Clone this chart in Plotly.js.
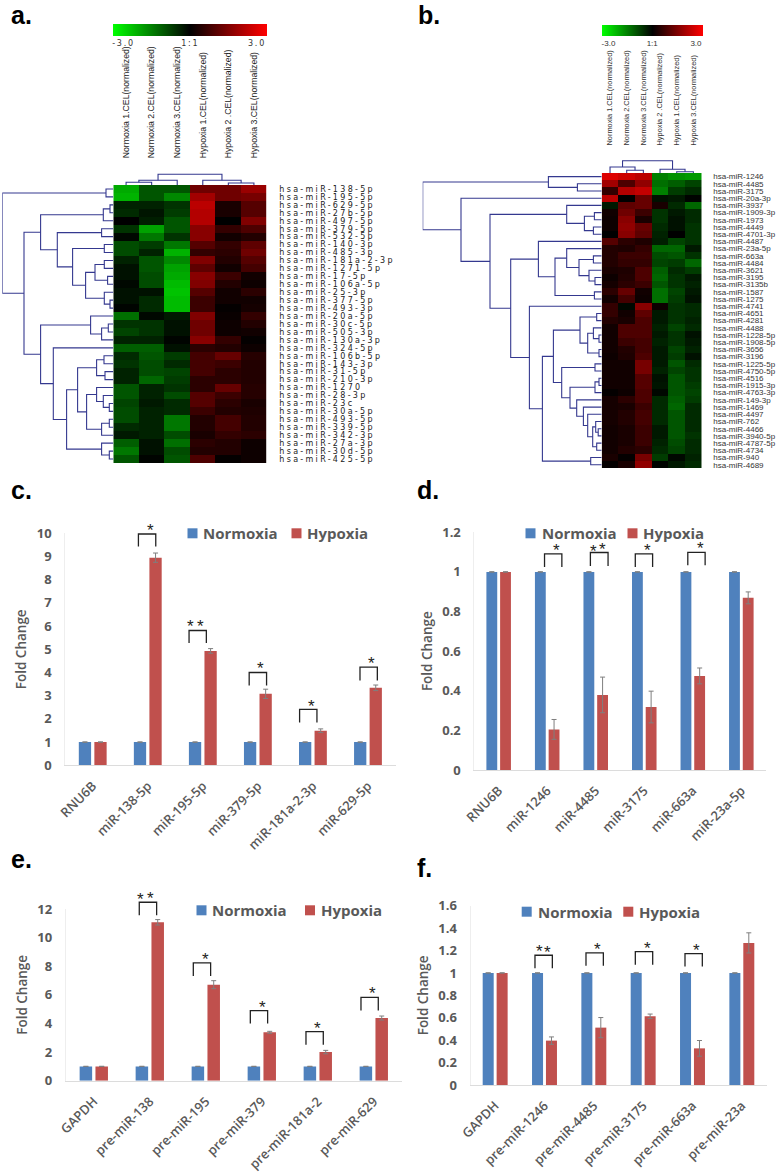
<!DOCTYPE html>
<html>
<head>
<meta charset="utf-8">
<script src="https://cdn.plot.ly/plotly-3.0.1.min.js"></script>
<style>
html,body{margin:0;padding:0;background:#fff}
#chart{width:778px;height:1174px}
.subplot.xy .yaxislayer-above text{letter-spacing:2.3px}
.cbheatA text{letter-spacing:1.8px}
</style>
</head>
<body>
<div id="chart"></div>
<script>
const W = 778, H = 1174;

/* ---------- heat map a ---------- */
const colsA = ["Normoxia 1.CEL(normalized)","Normoxia 2.CEL(normalized)","Normoxia 3.CEL(normalized)","Hypoxia 1.CEL(normalized)","Hypoxia 2 .CEL(normalized)","Hypoxia 3.CEL(normalized)"];
const rowsA = ["hsa-miR-138-5p","hsa-miR-195-5p","hsa-miR-629-5p","hsa-miR-27b-5p","hsa-miR-497-5p","hsa-miR-379-5p","hsa-miR-532-5p","hsa-miR-140-3p","hsa-miR-485-3p","hsa-miR-181a-2-3p","hsa-miR-1271-5p","hsa-miR-17-5p","hsa-miR-106a-5p","hsa-miR-25-3p","hsa-miR-377-5p","hsa-miR-493-3p","hsa-miR-20a-5p","hsa-miR-30c-5p","hsa-miR-505-3p","hsa-miR-130a-3p","hsa-miR-324-5p","hsa-miR-106b-5p","hsa-miR-143-3p","hsa-miR-31-5p","hsa-miR-210-3p","hsa-miR-1270","hsa-miR-28-3p","hsa-miR-23c","hsa-miR-30a-5p","hsa-miR-493-5p","hsa-miR-339-5p","hsa-miR-342-3p","hsa-miR-27a-3p","hsa-miR-30d-5p","hsa-miR-425-5p"];
const heatA = [
[-2.0,-1.0,-1.0,1.3,1.3,1.8],[-2.1,-1.0,-1.6,1.9,1.3,1.4],[-0.4,-0.4,-0.6,2.2,0.3,1.0],[-0.5,-0.25,-0.7,2.1,0.3,1.0],[0,-0.35,-1.0,2.1,0,1.5],
[-0.6,-1.9,-1.0,1.6,0.6,0.9],[-0.1,-1.4,-0.6,1.6,0.2,0.4],[-0.9,-0.7,-1.4,1.0,0.6,1.1],[-0.9,-0.4,-2.1,0.6,0.5,1.3],[-0.4,-1.0,-1.6,1.5,0.4,1.0],
[-0.2,-1.0,-1.9,1.1,0.2,0.8],[-0.2,-0.9,-2.0,1.6,0.7,0.2],[-0.1,-0.9,-2.2,1.5,0.4,0.15],[-0.2,-0.2,-2.3,1.0,0.2,0.5],[-0.2,-0.5,-2.2,0.7,0.2,0.2],
[-0.05,-0.5,-2.2,0.7,0.05,0.25],[-1.3,-0.1,-0.3,1.5,0.1,0.6],[-0.6,-0.6,-0.2,1.3,0.15,0.4],[-0.8,-0.6,-0.2,1.3,0.15,0.2],[-0.4,-0.4,-0.05,1.6,0.6,0.05],
[-1.1,-1.1,-0.2,0.5,0.4,0.15],[-0.5,-1.0,-0.7,0.8,1.2,0.45],[-0.6,-0.9,-0.5,0.8,0.7,0.4],[-0.4,-0.9,-0.8,0.8,0.5,0.4],[-0.4,-1.2,-0.7,0.5,0.5,0.4],
[-1.0,-0.4,-0.6,0.5,1.2,0.45],[-1.0,-0.4,-0.9,1.0,0.7,0.45],[-0.8,-0.3,-0.5,1.0,0.5,0.3],[-0.9,-0.4,-0.5,0.7,0.4,0.35],[-0.9,-0.4,-1.4,0.4,0.8,0.4],
[-0.5,-0.4,-1.4,0.4,0.8,0.4],[-0.3,-0.4,-0.9,0.3,0.6,0.5],[-1.1,-0.2,-1.3,0.5,0.4,0.15],[-1.4,-0.2,-0.9,0.4,0.4,0.15],[-1.0,-0.05,-1.0,0.9,0.05,0.15]];
const rowTreeA = [111,[7.3,0,1],[89.3,
  [72.7,[10,[3.3,2,3],4],[56,[11.7,5,6],[40.7,[9,7,8],[27.7,[18.3,[9,9,10],[5.7,11,12]],[9,13,[3.3,14,15]]]]]],
  [72.7,[22.7,16,[11.7,[5,17,18],19]],[60,20,[46.7,[35.7,[16.7,[9.3,21,22],[8.3,23,24]],[26.7,[16.7,25,[10,26,[4,27,28]]],[11.7,[4,29,30],31]]],[11.7,32,[4,33,34]]]]]]];
const colTreeA = [10.7,[4.7,[2.7,0,1],2],[4.7,3,[2,4,5]]];

/* ---------- heat map b ---------- */
const colsB = ["Normoxia 1.CEL(normalized)","Normoxia 2.CEL(normalized)","Normoxia 3.CEL(normalized)","Hypoxia 2 .CEL(normalized)","Hypoxia 1.CEL(normalized)","Hypoxia 3.CEL(normalized)"];
const rowsB = ["hsa-miR-1246","hsa-miR-4485","hsa-miR-3175","hsa-miR-20a-3p","hsa-miR-3937","hsa-miR-1909-3p","hsa-miR-1973","hsa-miR-4449","hsa-miR-4701-3p","hsa-miR-4487","hsa-miR-23a-5p","hsa-miR-663a","hsa-miR-4484","hsa-miR-3621","hsa-miR-3195","hsa-miR-3135b","hsa-miR-1587","hsa-miR-1275","hsa-miR-4741","hsa-miR-4651","hsa-miR-4281","hsa-miR-4488","hsa-miR-1228-5p","hsa-miR-1908-5p","hsa-miR-3656","hsa-miR-3196","hsa-miR-1225-5p","hsa-miR-4750-5p","hsa-miR-4516","hsa-miR-1915-3p","hsa-miR-4763-3p","hsa-miR-149-3p","hsa-miR-1469","hsa-miR-4497","hsa-miR-762","hsa-miR-4466","hsa-miR-3940-5p","hsa-miR-4787-5p","hsa-miR-4734","hsa-miR-940","hsa-miR-4689"];
const heatB = [
[2.6,2.4,2.2,-1.5,-1.7,-1.8],[1.9,0.9,1.7,-1.3,-1.1,-0.8],[0.6,2.1,2.3,-1.5,-0.7,-0.5],[2.2,0,1.2,-0.2,-0.3,-0.03],[-0.3,1.1,1.2,0.3,-0.5,-1.2],
[0.2,1.3,0.7,-0.6,-0.3,-0.5],[0.15,1.6,0.3,-0.6,-0.2,-0.5],[0.15,1.7,1.2,-0.5,-0.2,-0.6],[0,1.6,1.1,-0.4,0,-0.6],[1.0,0.5,0.35,-0.35,-0.8,-0.6],
[0.4,0.35,0.6,-1.2,-1.2,-0.3],[0.4,0.7,0.7,-0.9,-1.0,-0.6],[0.4,0.6,0.6,-0.8,-0.7,-1.2],[0.3,0.35,0.9,-1.1,-0.5,-0.7],[0.15,0.4,0.9,-1.2,-0.6,-0.3],
[0.25,0.5,0.7,-1.0,-0.6,-0.4],[0.5,1.2,0.2,-1.3,-0.8,-0.3],[0.2,0.8,0.15,-1.3,-0.7,-0.2],[0.6,-0.1,1.6,0.15,-0.6,-0.5],[0.6,0.2,1.1,-0.3,-0.6,-0.5],
[0.4,0.3,0.9,-0.3,-0.6,-0.4],[0.2,0.9,0.9,-0.4,-0.8,-0.5],[0.2,0.9,0.9,-0.3,-0.6,-0.2],[0.2,0.7,0.8,-0.4,-0.6,-0.3],[0.2,0.4,0.8,-0.3,-0.8,-0.4],
[0.15,0.35,0.9,-0.3,-0.7,-0.2],[0.2,0.2,1.4,-0.3,-1.0,-0.5],[0.2,0.2,1.4,-0.4,-0.8,-0.6],[0.2,0.2,1.0,-0.2,-1.0,-0.6],[0.2,0.2,1.0,-0.25,-1.0,-0.7],
[0.05,0.15,0.9,-0.1,-1.0,-0.8],[0.25,0.5,0.9,-0.5,-1.1,-0.7],[0.25,0.3,0.7,-0.5,-1.2,-0.5],[0.25,0.4,0.8,-0.5,-1.0,-0.5],[0.25,0.4,0.8,-0.5,-1.0,-0.5],
[0.2,0.3,0.7,-0.3,-1.0,-0.5],[0.2,0.3,0.7,-0.3,-1.0,-0.6],[0.2,0.3,0.7,-0.4,-0.9,-0.5],[0.2,0.4,0.5,-0.5,-0.8,-0.5],[0.3,0.05,1.4,-0.7,-0.1,-0.4],[0.05,0.3,1.7,-0.05,-0.3,-0.5]];
const rowTreeB = [179,[53.3,0,[24.3,1,2]],[140.7,3,[111.7,
  [35,4,[17.3,[7.3,5,6],[8.3,7,8]]],
  [91,
    [63.3,9,[46.7,[35,10,[22.7,[8.3,11,12],[12.7,13,[6.7,14,15]]]],[7.3,16,17]]],
    [72.3,18,[59.3,
      [48.3,
        [21.7,[5,19,20],[14,[8.3,21,[2.7,22,23]],[2.7,24,25]]],
        [40,[6.7,26,27],[31.7,[6.7,[2.7,28,29],30],[25,31,[18.3,32,[14,33,[9,[6,34,[3.5,35,36]],[5,37,38]]]]]]]],
      [11,39,40]]]]]]];
const colTreeB = [12.3,[6,0,[2.7,1,2]],[3.7,3,[1.3,4,5]]];
const colorScale = [[0,"#00ff00"],[0.5,"#000000"],[1,"#ff0000"]];
const scaleTicks = [-2.6,0,2.6];
const scaleLabels = ["-3.0","1:1","3.0"];

/* ---------- bar panels ---------- */
const seriesNames = ["Normoxia","Hypoxia"];
const catsC = ["RNU6B","miR-138-5p","miR-195-5p","miR-379-5p","miR-181a-2-3p","miR-629-5p"];
const normC = [1,1,1,1,1,1];
const hypoC = [1,8.95,4.93,3.08,1.49,3.34];
const errNC = [0.01,0.01,0.01,0.01,0.01,0.01];
const errHC = [0.01,0.2,0.1,0.2,0.08,0.12];
const catsD = ["RNU6B","miR-1246","miR-4485","miR-3175","miR-663a","miR-23a-5p"];
const normD = [1,1,1,1,1,1];
const hypoD = [1,0.205,0.379,0.318,0.475,0.869];
const errND = [0.001,0.001,0.001,0.001,0.001,0.001];
const errHD = [0.001,0.05,0.09,0.08,0.04,0.03];
const catsE = ["GAPDH","pre-miR-138","pre-miR-195","pre-miR-379","pre-miR-181a-2","pre-miR-629"];
const normE = [1,1,1,1,1,1];
const hypoE = [1,11.07,6.71,3.38,2.0,4.38];
const errNE = [0.01,0.01,0.01,0.01,0.01,0.01];
const errHE = [0.01,0.19,0.28,0.07,0.12,0.14];
const catsF = ["GAPDH","pre-miR-1246","pre-miR-4485","pre-miR-3175","pre-miR-663a","pre-miR-23a"];
const normF = [1,1,1,1,1,1];
const hypoF = [1,0.396,0.512,0.613,0.327,1.268];
const errNF = [0.001,0.001,0.001,0.001,0.001,0.001];
const errHF = [0.001,0.033,0.09,0.02,0.07,0.09];

/* significance: [category, left, right, top, leg bottom, [[star dx, star y],...]] */
const sigC = [[1,-.17,.145,9.97,9.43,[[.05,10.24]]],[2,-.25,.064,5.81,5.27,[[-.233,6.13],[-.04,6.10]]],[3,-.158,.158,4.0,3.44,[[.055,4.29]]],[4,-.242,.073,2.41,1.85,[[-.024,2.68]]],[5,-.145,.17,4.23,3.66,[[.067,4.5]]]];
const sigD = [[1,-.055,.302,1.091,1.025,[[.192,1.123]]],[2,-.11,.254,1.098,1.03,[[-.048,1.12],[.144,1.128]]],[3,-.185,.172,1.091,1.025,[[.062,1.123]]],[4,-.103,.254,1.099,1.034,[[.151,1.131]]]];
const sigE = [[1,-.188,.122,12.47,11.56,[[-.17,12.87],[.02,12.91]]],[2,-.223,.086,8.23,7.32,[[-.009,8.67]]],[3,-.205,.104,4.9,3.99,[[.009,5.34]]],[4,-.211,.098,3.43,2.52,[[.003,3.87]]],[5,-.229,.08,5.83,4.9,[[-.015,6.27]]]];
const sigF = [[1,-.193,.159,1.158,1.042,[[-.111,1.22],[.064,1.211]]],[2,-.159,.193,1.179,1.063,[[.084,1.235]]],[3,-.159,.193,1.19,1.074,[[.091,1.247]]],[4,-.152,.199,1.173,1.057,[[.091,1.229]]]];

/* ---------- helpers ---------- */
const px = x => x / W;
const py = y => 1 - y / H;
const domX = (a, b) => [px(a), px(b)];
const domY = (top, bottom) => [py(bottom), py(top)];
const BLUE = "#4F81BD", RED = "#C0504D", GREY = "#595959", NAVY = "#34388f";
const SANS = "'Open Sans', sans-serif", ARIAL = "'Liberation Sans', Arial, sans-serif";

function treeLines(tree, vertical) {
  const a = [], b = [];
  (function walk(n) {
    if (typeof n === "number") return {pos: n, h: 0};
    const L = walk(n[1]), R = walk(n[2]);
    a.push(L.h, n[0], n[0], R.h, null);
    b.push(L.pos, L.pos, R.pos, R.pos, null);
    return {pos: (L.pos + R.pos) / 2, h: n[0]};
  })(tree);
  return vertical ? {x: b, y: a} : {x: a, y: b};
}
function dendro(tree, vertical, xa, ya) {
  return Object.assign({type: "scatter", mode: "lines", xaxis: xa, yaxis: ya, hoverinfo: "skip", showlegend: false,
    cliponaxis: false, line: {color: NAVY, width: 1.1}}, treeLines(tree, vertical));
}

const data = [], annotations = [], shapes = [], layout = {
  width: W, height: H, margin: {l: 0, r: 0, t: 0, b: 0, pad: 0}, paper_bgcolor: "#fff", plot_bgcolor: "rgba(0,0,0,0)",
  showlegend: false, barmode: "group", bargap: 0.435, bargroupgap: 0.21, hovermode: false
};

function heatPanel(o) {
  const s = o.n === 1 ? "" : o.n;
  data.push({type: "heatmap", uid: o.uid, z: o.z, x: [0,1,2,3,4,5], y: o.rows.map((r, i) => i), zmin: -3, zmax: 3, colorscale: colorScale,
    xaxis: "x" + s, yaxis: "y" + s, hoverinfo: "skip", xgap: 0, ygap: 0,
    colorbar: {orientation: "h", x: px(o.cb[0]), xanchor: "left", y: py(o.cb[2]), yanchor: "top", len: o.cb[1] - o.cb[0], lenmode: "pixels",
      thickness: o.cb[3] - o.cb[2], thicknessmode: "pixels", xpad: 0, ypad: 0, outlinewidth: 0, borderwidth: 0, ticks: "", tickvals: scaleTicks, ticktext: scaleLabels,
      tickfont: o.cbFont}});
  const dx = o.n + 1, dy = o.n + 1;
  data.push(dendro(o.rowTree, false, "x" + dx, "y" + s));
  data.push(dendro(o.colTree, true, "x" + s, "y" + dy));
  layout["xaxis" + s] = {domain: domX(o.l, o.r), range: [-0.5, 5.5], anchor: "y" + s, side: "top", showgrid: false, zeroline: false, showline: false,
    ticks: "outside", ticklen: o.colGap, tickcolor: "rgba(0,0,0,0)", tickmode: "array", tickvals: [0,1,2,3,4,5], ticktext: o.cols, tickangle: -90, tickfont: o.colFont};
  layout["yaxis" + s] = {domain: domY(o.t, o.b), range: [o.rows.length - 0.5, -0.5], anchor: "x" + s, side: "right", showgrid: false, zeroline: false, showline: false,
    ticks: "outside", ticklen: o.rowGap, tickcolor: "rgba(0,0,0,0)", tickmode: "array", tickvals: o.rows.map((r, i) => i), ticktext: o.rows, tickfont: o.rowFont};
  layout["xaxis" + dx] = {domain: domX(o.dl, o.l), range: [o.l - o.dl, 0], anchor: "y" + s, visible: false};
  layout["yaxis" + dy] = {domain: domY(o.t - 13, o.t), range: [0, 13], anchor: "x" + s, visible: false};
}

function barPanel(o) {
  const s = o.n, over = o.n + 4;
  const xs = o.cats.map((c, i) => i);
  const ax = {xaxis: "x" + s, yaxis: "y" + s, hoverinfo: "skip"};
  const ax2 = {xaxis: "x" + s, yaxis: "y" + over, hoverinfo: "skip"};
  const err = a => ({type: "data", array: a, visible: true, color: "#7f7f7f", thickness: 1, width: 2.5});
  data.push(Object.assign({type: "bar", name: seriesNames[0], x: xs, y: o.norm, marker: {color: BLUE}, error_y: err(o.errN)}, ax));
  data.push(Object.assign({type: "bar", name: seriesNames[1], x: xs, y: o.hypo, marker: {color: RED}, error_y: err(o.errH)}, ax));
  o.sig.forEach(g => {
    const c = g[0];
    data.push(Object.assign({type: "scatter", mode: "lines", x: [c + g[1], c + g[1], c + g[2], c + g[2]], y: [g[4], g[3], g[3], g[4]],
      line: {color: "#222", width: 1.3}, cliponaxis: false, showlegend: false}, ax2));
    g[5].forEach(st => annotations.push({xref: "x" + s, yref: "y" + over, x: c + st[0], y: st[1], text: "*", showarrow: false, yshift: -3,
      font: {family: ARIAL, size: 17, color: "#222"}}));
  });
  const unit = (o.b - o.t) / o.max;
  layout["yaxis" + over] = {domain: domY(o.t - o.head * unit, o.b), range: [0, o.max + o.head], anchor: "x" + s, visible: false};
  layout["xaxis" + s] = {domain: domX(o.l, o.r), range: [-0.5, 5.5], anchor: "y" + s, showgrid: false, zeroline: false, showline: true, linecolor: "#dcdcdc", linewidth: 1,
    tickmode: "array", tickvals: xs, ticktext: o.cats, tickangle: -45, ticks: "outside", ticklen: 7, tickcolor: "rgba(0,0,0,0)",
    tickfont: {family: SANS, size: 13, weight: 600, color: GREY}};
  layout["yaxis" + s] = {domain: domY(o.t, o.b), range: [0, o.max], anchor: "x" + s, showgrid: false, zeroline: false, showline: true, linecolor: "#eeeeee", linewidth: 1,
    tickmode: "array", tickvals: o.ticks, ticktext: o.ticks.map(String), ticks: "outside", ticklen: o.tickGap, tickcolor: "rgba(0,0,0,0)",
    tickfont: {family: SANS, size: 13, weight: 700, color: GREY},
    title: {text: "Fold Change", font: {family: SANS, size: 13.5, weight: 600, color: GREY}, standoff: 6}};
  /* legend keys */
  const k = o.key, sz = 10;
  [[k.a, seriesNames[0], k.at, BLUE], [k.b, seriesNames[1], k.bt, RED]].forEach(e => {
    shapes.push({type: "rect", xref: "paper", yref: "paper", x0: px(e[0]), x1: px(e[0] + sz), y0: py(k.y + sz / 2), y1: py(k.y - sz / 2), fillcolor: e[3], line: {width: 0}});
    annotations.push({xref: "paper", yref: "paper", x: px(e[2]), y: py(k.y), xanchor: "left", yanchor: "middle", text: e[1], showarrow: false,
      borderpad: 0, font: {family: SANS, size: 15, weight: 700, color: GREY}});
  });
}

heatPanel({n: 1, uid: "heatA", z: heatA, rows: rowsA, cols: colsA, rowTree: rowTreeA, colTree: colTreeA, l: 113.3, r: 266.7, t: 185, b: 463, dl: 2.3, cb: [113.3, 267.5, 24.3, 36.5],
  colGap: 24, rowGap: 10, colFont: {family: ARIAL, size: 8.7, color: "#222"}, rowFont: {family: "'DejaVu Sans', sans-serif", size: 8, color: "#222"},
  cbFont: {family: "'DejaVu Sans', sans-serif", size: 8, color: "#333"}});
heatPanel({n: 3, uid: "heatB", z: heatB, rows: rowsB, cols: colsB, rowTree: rowTreeB, colTree: colTreeB, l: 601.7, r: 701.7, t: 173, b: 468.3, dl: 422.7, cb: [601.7, 702.7, 24.7, 35.7],
  colGap: 25, rowGap: 9, colFont: {family: ARIAL, size: 7.4, color: "#333"}, rowFont: {family: ARIAL, size: 8, color: "#333"},
  cbFont: {family: ARIAL, size: 8, color: "#333"}});

barPanel({n: 5, cats: catsC, norm: normC, hypo: hypoC, errN: errNC, errH: errHC, sig: sigC, l: 65.2, r: 395.5, t: 533.3, b: 765.3, max: 10, head: 1,
  ticks: [0,1,2,3,4,5,6,7,8,9,10], tickGap: 10, key: {a: 187.5, at: 202, b: 291.5, bt: 306, y: 533.3}});
barPanel({n: 6, cats: catsD, norm: normD, hypo: hypoD, errN: errND, errH: errHD, sig: sigD, l: 474.4, r: 765.6, t: 532.3, b: 770, max: 1.2, head: 0.1,
  ticks: [0,0.2,0.4,0.6,0.8,1,1.2], tickGap: 10, key: {a: 525.5, at: 540.5, b: 627.5, bt: 642, y: 533.3}});
barPanel({n: 7, cats: catsE, norm: normE, hypo: hypoE, errN: errNE, errH: errHE, sig: sigE, l: 65.8, r: 401.8, t: 909, b: 1080.7, max: 12, head: 2,
  ticks: [0,2,4,6,8,10,12], tickGap: 10, key: {a: 196.5, at: 211, b: 305, bt: 319.5, y: 910.3}});
barPanel({n: 8, cats: catsF, norm: normF, hypo: hypoF, errN: errNF, errH: errHF, sig: sigF, l: 470.5, r: 766.5, t: 905.7, b: 1085, max: 1.6, head: 0.1,
  ticks: [0,0.2,0.4,0.6,0.8,1,1.2,1.4,1.6], tickGap: 10, key: {a: 521.7, at: 537, b: 623.3, bt: 638.3, y: 911.7}});

[["a.",10,14.6],["b.",417,14.6],["c.",10,490],["d.",416,490],["e.",10,859],["f.",416,868]].forEach(t => {
  annotations.push({xref: "paper", yref: "paper", x: px(t[1]), y: py(t[2]), xanchor: "left", yanchor: "middle", text: t[0], showarrow: false, borderpad: 0,
    font: {family: ARIAL, size: 25, weight: 700, color: "#000"}});
});
layout.annotations = annotations;
layout.shapes = shapes;
Plotly.newPlot("chart", data, layout, {displayModeBar: false, staticPlot: true});
</script>
</body>
</html>
